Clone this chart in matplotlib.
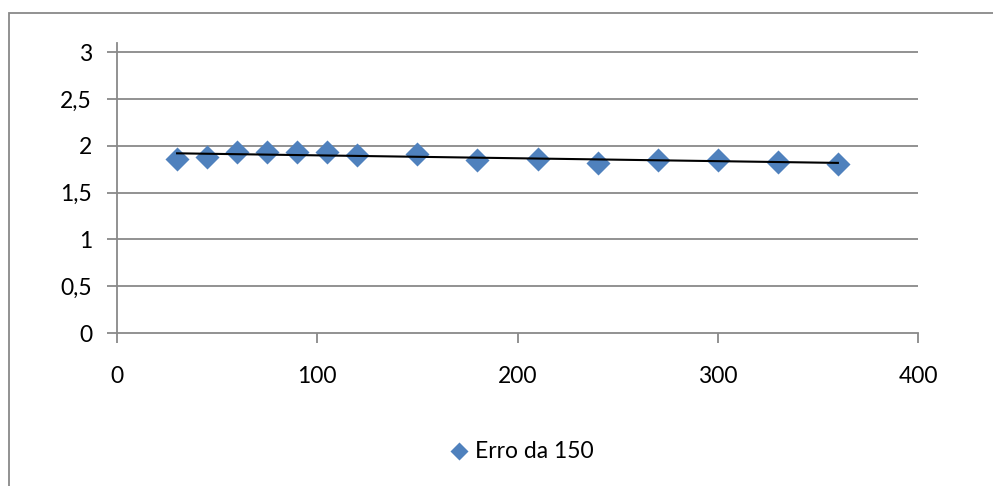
import numpy as np
import matplotlib
matplotlib.use('Agg')
import matplotlib.pyplot as plt
from matplotlib.patches import Rectangle
from matplotlib.ticker import FuncFormatter

plt.rcParams['font.family'] = ['Lato', 'DejaVu Sans']

x_vals = [30, 45, 60, 75, 90, 105, 120, 150, 180, 210, 240, 270, 300, 330, 360]
y_vals = [1.86, 1.885, 1.935, 1.93, 1.93, 1.935, 1.90, 1.91, 1.85, 1.86, 1.82, 1.85, 1.85, 1.83, 1.81]
serie_nome = 'Erro da 150'
y_ticks = [0, 0.5, 1, 1.5, 2, 2.5, 3]
x_ticks = [0, 100, 200, 300, 400]

W, H = 993, 486
fig = plt.figure(figsize=(W / 100, H / 100), dpi=100)
ax = fig.add_axes([117 / W, 1 - 333 / H, (918 - 117) / W, (333 - 43) / H])

grigio = '#898989'
blu = '#4F81BD'

# bordo esterno del grafico
fig.add_artist(Rectangle((9 / W, -0.1), 2, 1 - 13 / H + 0.1, transform=fig.transFigure,
                         fill=False, edgecolor=grigio, linewidth=1.3))

for yt in y_ticks[1:]:
    ax.axhline(yt, color=grigio, linewidth=1.3, zorder=1)

ax.scatter(x_vals, y_vals, marker='D', s=150, color=blu, zorder=3, label=serie_nome, linewidths=0)

# linea di tendenza lineare
a, b = np.polyfit(x_vals, y_vals, 1)
xt = np.array([min(x_vals), max(x_vals)])
ax.plot(xt, a * xt + b, color='black', linewidth=1.5, zorder=4)

ax.set_xlim(0, 400)
ax.set_ylim(0, 3.1)
ax.set_xticks(x_ticks)
ax.set_yticks(y_ticks)
ax.yaxis.set_major_formatter(FuncFormatter(lambda v, p: ('%g' % v).replace('.', ',')))
for s in ['top', 'right']:
    ax.spines[s].set_visible(False)
for s in ['left', 'bottom']:
    ax.spines[s].set_color(grigio)
    ax.spines[s].set_linewidth(1.3)
ax.tick_params(axis='both', colors=grigio, length=7, width=1.3, labelcolor='black', labelsize=16.5)
ax.tick_params(axis='y', pad=11)
ax.tick_params(axis='x', pad=17)

fig.legend(loc='center', bbox_to_anchor=(522 / W, 1 - 451 / H), frameon=False,
           fontsize=16.5, handletextpad=0.3, handlelength=0.8, markerscale=0.75)

fig.savefig('out.png', dpi=100)
